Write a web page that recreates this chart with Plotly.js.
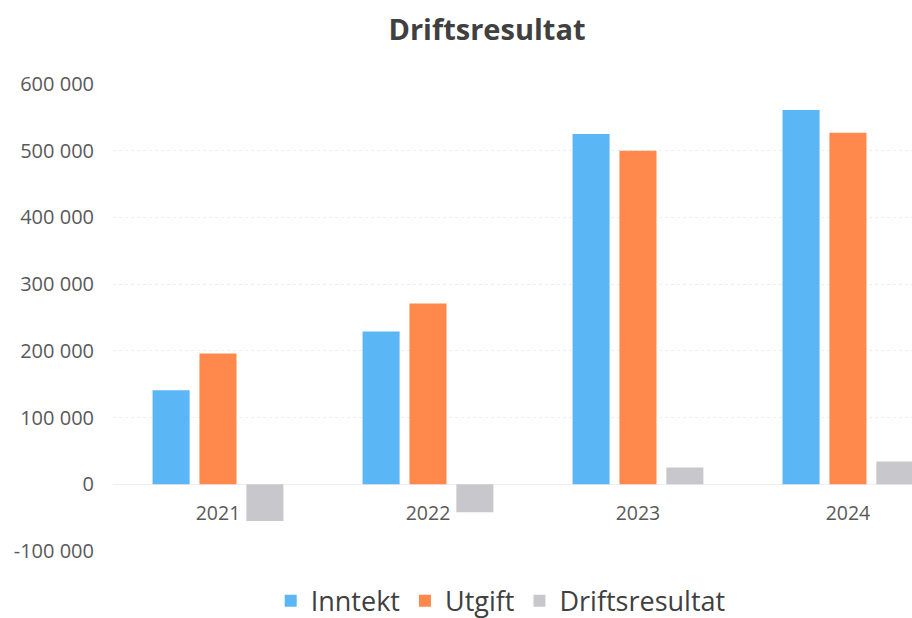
<!DOCTYPE html>
<html>
<head>
<meta charset="utf-8">
<script src="https://cdn.plot.ly/plotly-3.0.1.min.js"></script>
<style>html,body{margin:0;padding:0;background:#fff;}#chart{width:912px;height:618px;}</style>
</head>
<body>
<div id="chart"></div>
<script>
const years = ['2021', '2022', '2023', '2024'];
const inntekt = [141000, 229000, 525000, 561000];
const utgift = [196000, 271000, 500000, 527000];
const driftsresultat = [-55000, -42000, 25000, 34000];
const yTicks = [-100000, 0, 100000, 200000, 300000, 400000, 500000, 600000];
const yTickLabels = ['-100 000', '0', '100 000', '200 000', '300 000', '400 000', '500 000', '600 000'];

const font = '"Open Sans", "DejaVu Sans", sans-serif';
const traces = [
  {type: 'bar', name: 'Inntekt', x: years, y: inntekt, marker: {color: '#5AB6F5'}},
  {type: 'bar', name: 'Utgift', x: years, y: utgift, marker: {color: '#FF884C'}},
  {type: 'bar', name: 'Driftsresultat', x: years, y: driftsresultat, marker: {color: '#C8C8CC'}}
];
const layout = {
  width: 912, height: 618,
  margin: {l: 113, r: 0, t: 84, b: 67, pad: 0},
  paper_bgcolor: '#fff', plot_bgcolor: '#fff',
  barmode: 'group', bargap: 0.33, bargroupgap: 0.21,
  title: {text: 'Driftsresultat', font: {family: font, size: 29, color: '#404040', weight: 'bold'},
          xref: 'container', x: 0.534, xanchor: 'center', yref: 'container', y: 0.952, yanchor: 'middle'},
  xaxis: {type: 'category', range: [-0.5, 3.305], anchor: 'free', position: 0.1435,
          showgrid: false, showline: false, ticks: '', ticklabelstandoff: 16,
          tickfont: {family: font, size: 19.5, color: '#595959'}, fixedrange: true},
  yaxis: {range: [-100000, 600000], tickvals: yTicks, ticktext: yTickLabels,
          showgrid: true, gridcolor: '#eeeeee', griddash: 'dot', zeroline: true, zerolinecolor: '#eeeeee',
          ticks: '', ticklabelstandoff: 18, showline: false,
          tickfont: {family: font, size: 20, color: '#595959'}},
  showlegend: true,
  legend: {orientation: 'h', xref: 'container', x: 0.549, xanchor: 'center',
           yref: 'container', y: 0.027, yanchor: 'middle',
           font: {family: font, size: 27, color: '#404040'}, itemwidth: 30, traceorder: 'normal'}
};
Plotly.newPlot('chart', traces, layout, {displayModeBar: false, staticPlot: true});
</script>
</body>
</html>
